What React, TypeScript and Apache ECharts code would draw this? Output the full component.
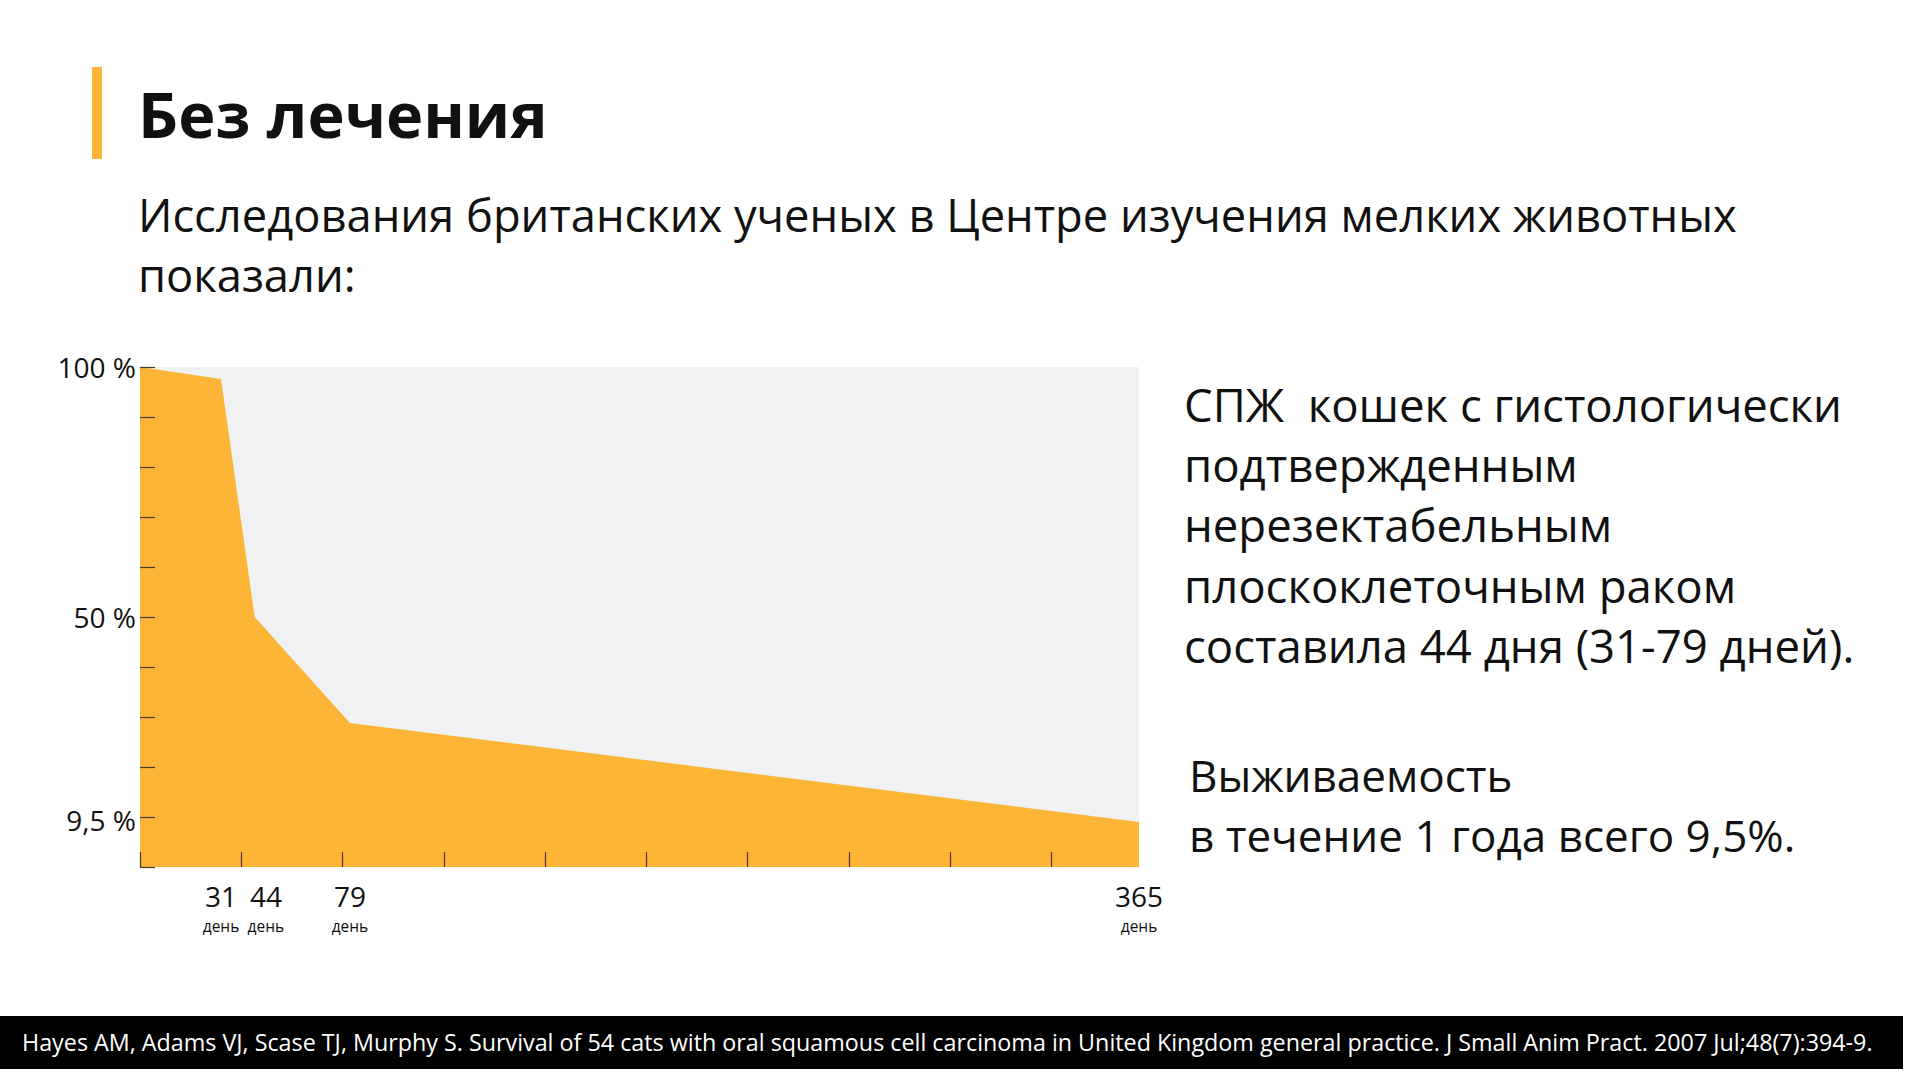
import React, { useEffect, useRef } from "react";
import * as echarts from "echarts";

// ---- data ----
const days = [0, 29.6, 41.9, 76.7, 365];
const survival = [100, 97.6, 50, 28.8, 9.0];

const xTickDays = [0, 37, 74, 111, 148, 185, 222, 259, 296, 333];
const xLabelDays = [29.6, 46, 76.7, 365];
const xLabelText = ["31", "44", "79", "365"];
const xLabelUnit = "день";

const yLabelValues = [100, 50, 9.5];
const yLabelText = ["100 %", "50 %", "9,5 %"];

const titleText = "Без лечения";
const subtitleLines = [
  "Исследования британских ученых в Центре изучения мелких животных",
  "показали:",
];
const noteLines = [
  "СПЖ  кошек с гистологически",
  "подтвержденным",
  "нерезектабельным",
  "плоскоклеточным раком",
  "составила 44 дня (31-79 дней).",
];
const survivalLines = ["Выживаемость", "в течение 1 года всего 9,5%."];
const footerText =
  "Hayes AM, Adams VJ, Scase TJ, Murphy S. Survival of 54 cats with oral squamous cell carcinoma in United Kingdom general practice. J Small Anim Pract. 2007 Jul;48(7):394-9.";

const FONT = "'Open Sans', 'Noto Sans', sans-serif";
const ORANGE = "#FDB538";
const TEXT = "#111111";

export default function App() {
  const ref = useRef<HTMLDivElement>(null);

  useEffect(() => {
    if (!ref.current) return;
    const chart = echarts.init(ref.current, undefined, { renderer: "svg" });

    const findIdx = (arr: number[], v: number) =>
      arr.findIndex((a) => Math.abs(a - v) < 1e-6);

    const graphics: any[] = [];
    graphics.push({
      type: "rect",
      shape: { x: 92, y: 67, width: 10, height: 92 },
      style: { fill: ORANGE },
    });
    graphics.push({
      type: "text",
      x: 138,
      y: 113,
      style: {
        text: titleText,
        fontSize: 63,
        fontWeight: "bold",
        fontFamily: FONT,
        fill: TEXT,
        verticalAlign: "middle",
      },
    });
    subtitleLines.forEach((t, i) => {
      graphics.push({
        type: "text",
        x: 138,
        y: 214 + i * 60,
        style: { text: t, fontSize: 45.3, fontFamily: FONT, fill: TEXT, verticalAlign: "middle" },
      });
    });
    noteLines.forEach((t, i) => {
      graphics.push({
        type: "text",
        x: 1184,
        y: 404 + i * 60.2,
        style: { text: t, fontSize: 45.5, fontFamily: FONT, fill: TEXT, verticalAlign: "middle" },
      });
    });
    survivalLines.forEach((t, i) => {
      graphics.push({
        type: "text",
        x: 1189,
        y: 775 + i * 60,
        style: { text: t, fontSize: 44, fontFamily: FONT, fill: TEXT, verticalAlign: "middle" },
      });
    });
    graphics.push({
      type: "rect",
      shape: { x: 0, y: 1016, width: 1903, height: 53 },
      style: { fill: "#000000" },
    });
    graphics.push({
      type: "text",
      x: 22,
      y: 1042,
      style: { text: footerText, fontSize: 23.3, fontFamily: FONT, fill: "#ffffff", verticalAlign: "middle" },
    });

    const tickStyle = { color: "#4a3a22", width: 1.2 };

    chart.setOption({
      animation: false,
      backgroundColor: "#ffffff",
      grid: {
        left: 140,
        top: 367,
        width: 999,
        height: 500,
        show: true,
        backgroundColor: "#EFF1F3",
        borderWidth: 0,
      },
      xAxis: [
        {
          type: "value",
          min: 0,
          max: 365,
          z: 5,
          splitLine: { show: false },
          axisLine: { show: false },
          axisTick: {
            show: true,
            inside: true,
            length: 15,
            customValues: xTickDays,
            lineStyle: tickStyle,
          },
          axisLabel: {
            show: true,
            customValues: xLabelDays,
            margin: 17,
            fontSize: 28,
            lineHeight: 24,
            color: TEXT,
            fontFamily: FONT,
            formatter: (v: number) => {
              const i = findIdx(xLabelDays, v);
              return i < 0 ? "" : xLabelText[i];
            },
          },
        },
        {
          type: "value",
          min: 0,
          max: 365,
          position: "bottom",
          z: 5,
          splitLine: { show: false },
          axisLine: { show: false },
          axisTick: { show: false },
          axisLabel: {
            show: true,
            customValues: xLabelDays,
            margin: 51,
            fontSize: 15.5,
            lineHeight: 16,
            color: TEXT,
            fontFamily: FONT,
            formatter: () => xLabelUnit,
          },
        },
      ],
      yAxis: {
        type: "value",
        min: 0,
        max: 100,
        interval: 10,
        z: 5,
        splitLine: { show: false },
        axisLine: { show: false },
        axisTick: {
          show: true,
          inside: true,
          length: 15,
          lineStyle: tickStyle,
        },
        axisLabel: {
          show: true,
          customValues: yLabelValues,
          margin: 4,
          fontSize: 28,
          color: TEXT,
          fontFamily: FONT,
          formatter: (v: number) => {
            const i = findIdx(yLabelValues, v);
            return i < 0 ? "" : yLabelText[i];
          },
        },
      },
      series: [
        {
          type: "line",
          xAxisIndex: 0,
          data: days.map((d, i) => [d, survival[i]]),
          showSymbol: false,
          symbol: "none",
          lineStyle: { width: 0 },
          areaStyle: { color: ORANGE, opacity: 1 },
          z: 2,
        },
      ],
      graphic: graphics,
    });

    return () => chart.dispose();
  }, []);

  return (
    <div
      ref={ref}
      style={{ position: "fixed", left: 0, top: 0, width: 1920, height: 1080, background: "#fff" }}
    />
  );
}
